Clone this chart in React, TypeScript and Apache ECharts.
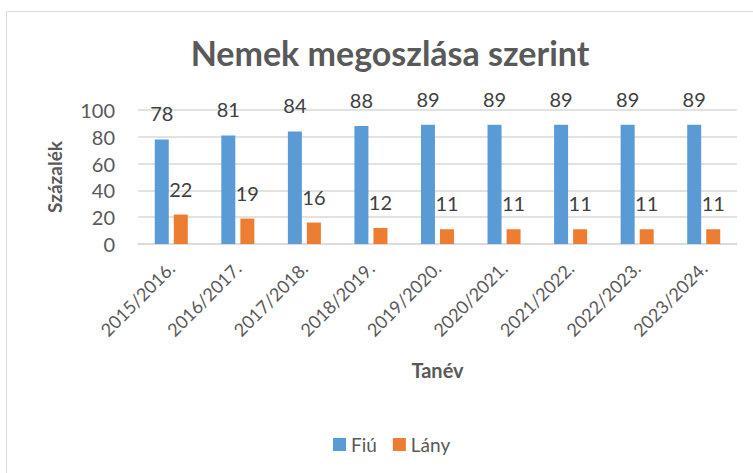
import React, { useEffect, useRef } from "react";
import * as echarts from "echarts";

const categories = [
  "2015/2016.",
  "2016/2017.",
  "2017/2018.",
  "2018/2019.",
  "2019/2020.",
  "2020/2021.",
  "2021/2022.",
  "2022/2023.",
  "2023/2024.",
];
const fiu = [78, 81, 84, 88, 89, 89, 89, 89, 89];
const lany = [22, 19, 16, 12, 11, 11, 11, 11, 11];
const yTicks = [0, 20, 40, 60, 80, 100];

const FONT = "Lato, 'Open Sans', sans-serif";

export default function App() {
  const ref = useRef<HTMLDivElement>(null);
  useEffect(() => {
    if (!ref.current) return;
    const chart = echarts.init(ref.current, null, { renderer: "svg" });
    chart.setOption({
      animation: false,
      backgroundColor: "#ffffff",
      textStyle: { fontFamily: FONT },
      title: {
        text: "Nemek megoszlása szerint",
        left: 385,
        top: 30,
        textAlign: "center",
        textStyle: { fontSize: 34, fontWeight: "bold", color: "#595959", fontFamily: FONT },
      },
      graphic: [
        {
          type: "rect",
          shape: { x: 6.5, y: 11.5, width: 800, height: 500 },
          style: { fill: "none", stroke: "#d9d9d9", lineWidth: 1 },
          silent: true,
        },
      ],
      legend: {
        data: ["Fiú", "Lány"],
        left: 328,
        top: 430,
        itemWidth: 13,
        itemHeight: 13,
        itemGap: 16,
        icon: "rect",
        textStyle: { fontSize: 19, color: "#595959", fontFamily: FONT },
      },
      grid: { left: 138, right: 16, top: 110, bottom: 229, containLabel: false },
      xAxis: {
        type: "category",
        data: categories,
        name: "Tanév",
        nameLocation: "middle",
        nameGap: 116,
        nameTextStyle: { fontSize: 20, fontWeight: "bold", color: "#595959", fontFamily: FONT },
        axisLine: { show: true, lineStyle: { color: "#d9d9d9", width: 1.5 } },
        axisTick: { show: false },
        axisLabel: { rotate: 45, fontSize: 18, color: "#595959", margin: 21, fontFamily: FONT },
      },
      yAxis: {
        type: "value",
        min: yTicks[0],
        max: yTicks[yTicks.length - 1],
        interval: 20,
        name: "Százalék",
        nameLocation: "middle",
        nameGap: 74,
        nameTextStyle: { fontSize: 19, fontWeight: "bold", color: "#595959", fontFamily: FONT },
        axisLine: { show: false },
        axisTick: { show: false },
        axisLabel: { fontSize: 20, color: "#595959", margin: 23, fontFamily: FONT },
        splitLine: { lineStyle: { color: "#d9d9d9", width: 1.5 } },
      },
      series: [
        {
          name: "Fiú",
          type: "bar",
          data: fiu,
          barWidth: 14,
          barGap: "36%",
          itemStyle: { color: "#5B9BD5" },
          label: {
            show: true,
            position: "top",
            distance: 16,
            fontSize: 20,
            color: "#404040",
            fontFamily: FONT,
          },
        },
        {
          name: "Lány",
          type: "bar",
          data: lany,
          barWidth: 14,
          itemStyle: { color: "#ED7D31" },
          label: {
            show: true,
            position: "top",
            distance: 16,
            fontSize: 20,
            color: "#404040",
            fontFamily: FONT,
          },
        },
      ],
    });
    return () => chart.dispose();
  }, []);
  return (
    <div
      ref={ref}
      style={{ position: "fixed", left: 0, top: 0, width: 753, height: 473 }}
    />
  );
}
